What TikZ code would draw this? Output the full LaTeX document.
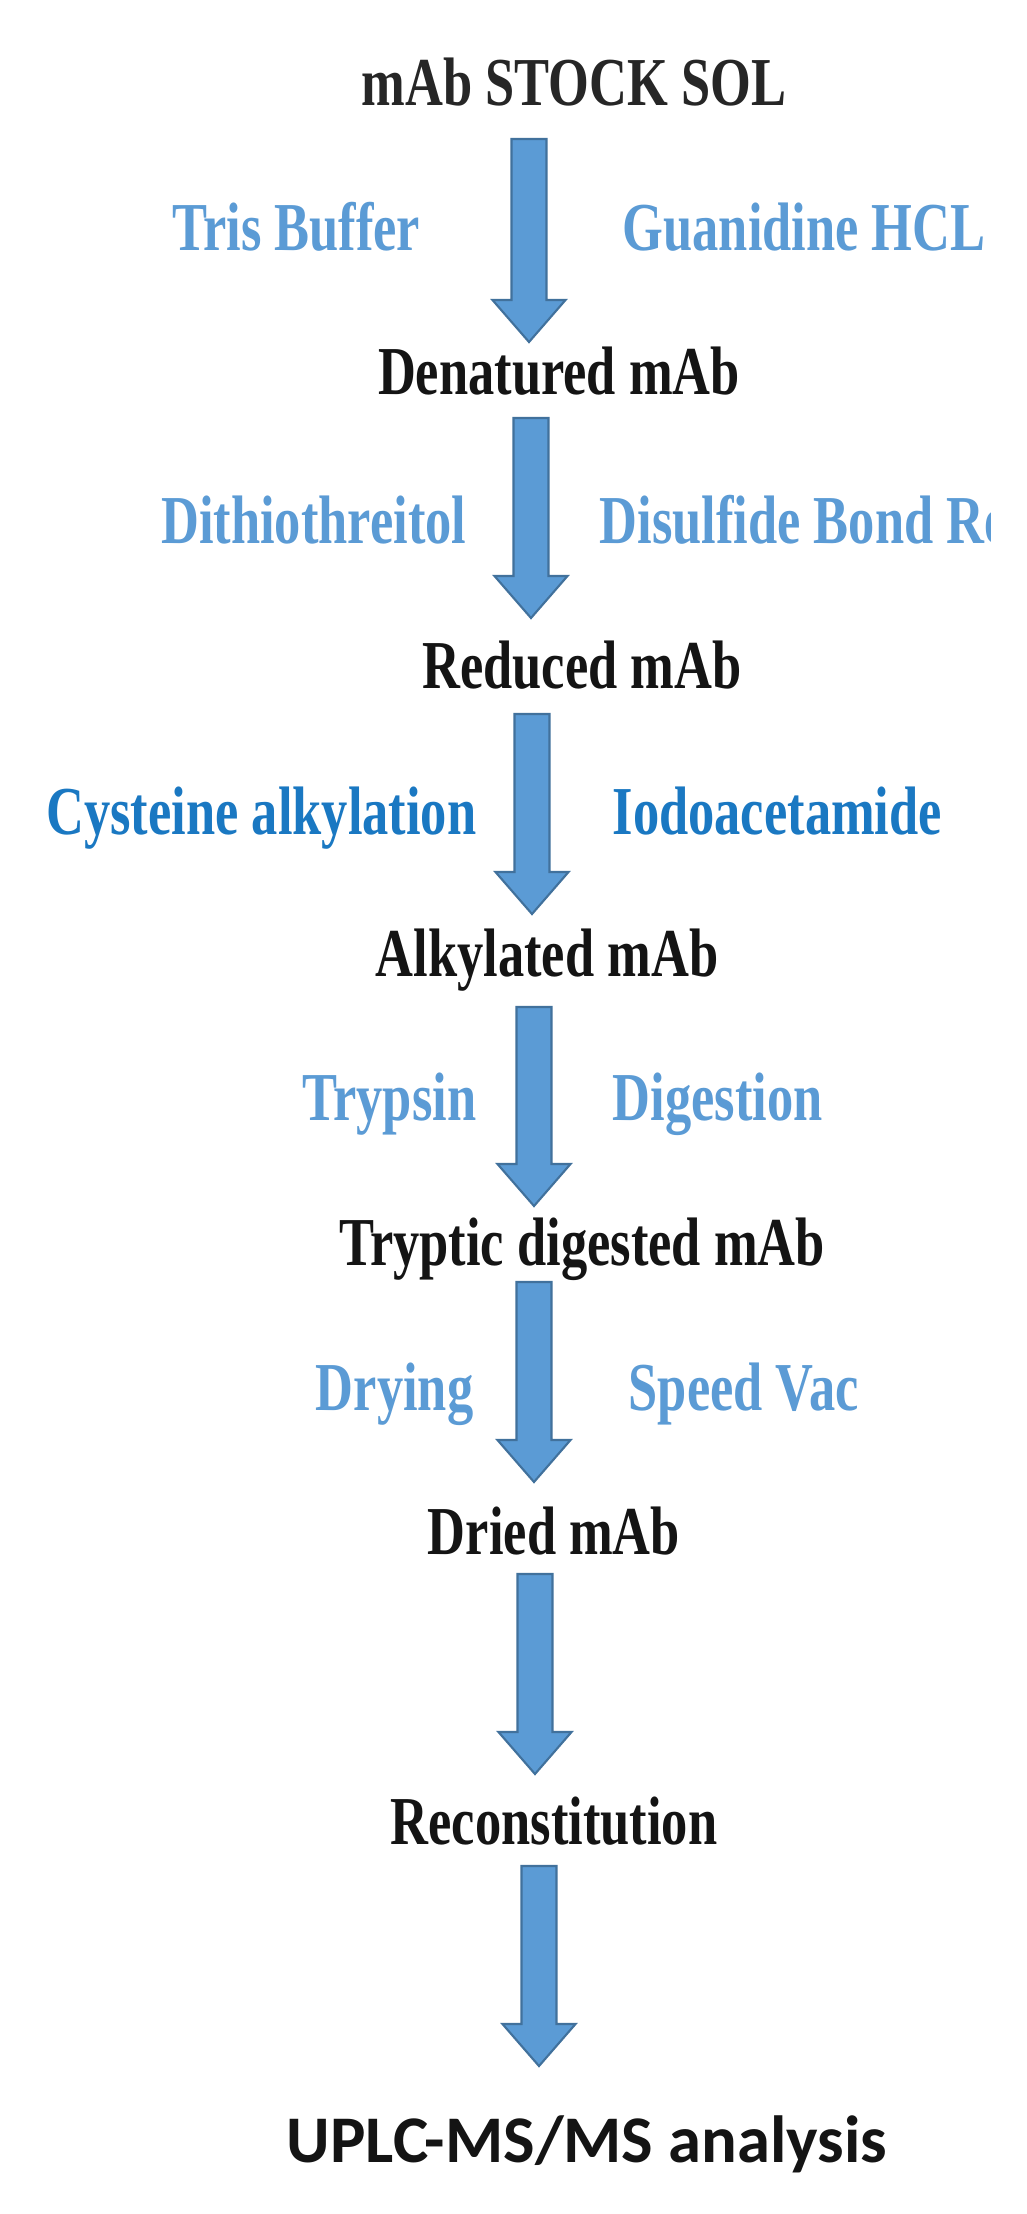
\documentclass[tikz,border=0pt]{standalone}
\usepackage{fontspec}
\newfontfamily\labfont{Liberation Serif}[FakeStretch=0.765]
\newfontfamily\calfont{Carlito}
\usetikzlibrary{calc}
\definecolor{lblue}{HTML}{5B9BD5}
\definecolor{dblue}{HTML}{1A78C2}
\definecolor{arrfill}{HTML}{5B9BD5}
\definecolor{arrline}{HTML}{41719C}
\definecolor{titlec}{HTML}{262626}
\begin{document}
\begin{tikzpicture}[x=0.01cm,y=-0.01cm,
  lab/.style={inner sep=0pt, font=\labfont\bfseries\fontsize{19.5}{22}\selectfont},
  stage/.style={lab, text=black!92, anchor=base},
  lreag/.style={lab, text=lblue, anchor=base east},
  rreag/.style={lab, text=lblue, anchor=base west},
  blockarr/.style={draw=arrline, fill=arrfill, line width=0.6pt, line join=miter,
    to path={let \p1=(\tikztostart), \p2=(\tikztotarget) in
      (\x1-0.175cm,\y1) -- (\x1+0.175cm,\y1) -- (\x1+0.175cm,\y2+0.42cm)
      -- (\x1+0.365cm,\y2+0.42cm) -- (\x2,\y2) -- (\x1-0.365cm,\y2+0.42cm)
      -- (\x1-0.175cm,\y2+0.42cm) -- cycle}}]
\useasboundingbox[fill=white] (0,0) rectangle (1026,2214);

% stages
\node[stage, text=titlec] (stock) at (574,105) {mAb STOCK SOL};
\node[stage] (den) at (559,394) {Denatured mAb};
\node[stage] (red) at (582,688) {Reduced mAb};
\node[stage] (alk) at (547,976) {Alkylated mAb};
\node[stage] (tryp) at (582,1265) {Tryptic digested mAb};
\node[stage] (dried) at (554,1554) {Dried mAb};
\node[stage] (recon) at (554,1844) {Reconstitution};
\node[anchor=base, inner sep=0pt, text=black!92, font=\calfont\bfseries\fontsize{18.95}{22}\selectfont] (uplc) at (587,2162) {UPLC-MS/MS analysis};

% reagents
\node[lreag] (tris) at (421,250) {Tris Buffer};
\node[rreag] (guan) at (622,250) {Guanidine HCL};
\node[lreag] (dtt) at (467,543) {Dithiothreitol};
\begin{scope}
\clip (0,0) rectangle (990,2214);
\node[rreag] (disu) at (599,543) {Disulfide Bond Re};
\end{scope}
\node[lreag, text=dblue] (cyst) at (477,834) {Cysteine alkylation};
\node[rreag, text=dblue] (iodo) at (612,834) {Iodoacetamide};
\node[lreag] (tryps) at (477,1120) {Trypsin};
\node[rreag] (dige) at (612,1120) {Digestion};
\node[lreag] (dry) at (474,1410) {Drying};
\node[rreag] (svac) at (628,1410) {Speed Vac};

% arrow end points
\coordinate (a1s) at (529,139);  \coordinate (a1e) at (529,342);
\coordinate (a2s) at (531,418);  \coordinate (a2e) at (531,618);
\coordinate (a3s) at (532,714);  \coordinate (a3e) at (532,914);
\coordinate (a4s) at (534,1007); \coordinate (a4e) at (534,1206);
\coordinate (a5s) at (534,1282); \coordinate (a5e) at (534,1482);
\coordinate (a6s) at (535,1574); \coordinate (a6e) at (535,1774);
\coordinate (a7s) at (539,1866); \coordinate (a7e) at (539,2066);

\path[blockarr] (a1s) to (a1e);
\path[blockarr] (a2s) to (a2e);
\path[blockarr] (a3s) to (a3e);
\path[blockarr] (a4s) to (a4e);
\path[blockarr] (a5s) to (a5e);
\path[blockarr] (a6s) to (a6e);
\path[blockarr] (a7s) to (a7e);
\end{tikzpicture}
\end{document}
